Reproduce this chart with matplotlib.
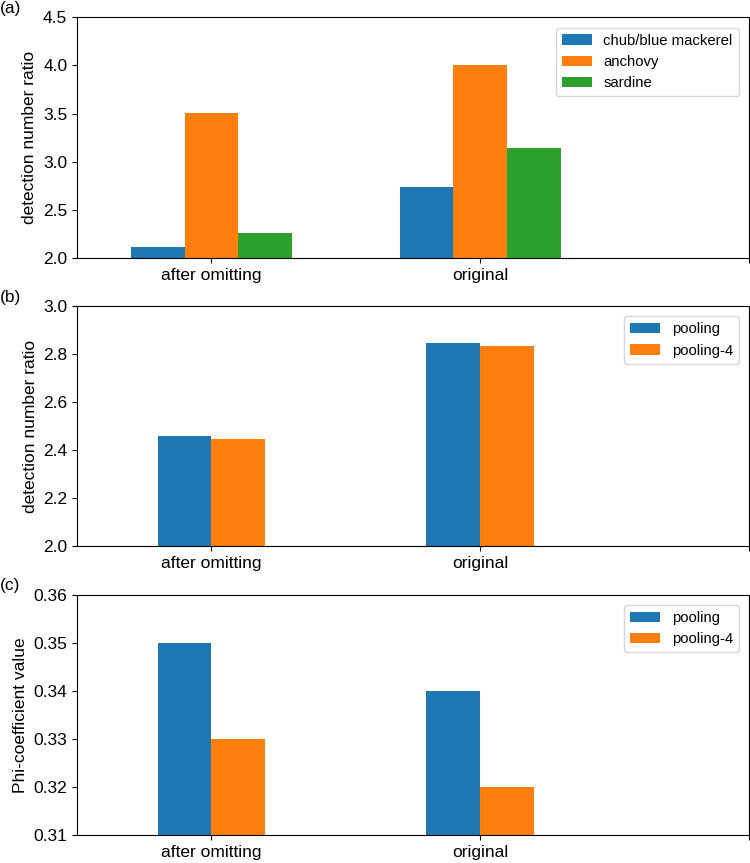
import numpy as np
import matplotlib
matplotlib.use("Agg")
import matplotlib.pyplot as plt

plt.rcParams['font.family'] = ['Liberation Sans', 'DejaVu Sans']
plt.rcParams['font.size'] = 12.5

categories = ['after omitting', 'original']

# (a) detection number ratio per species
species = ['chub/blue mackerel', 'anchovy', 'sardine']
ratio_mackerel = [2.11, 2.74]
ratio_anchovy = [3.51, 4.00]
ratio_sardine = [2.26, 3.14]

# (b) detection number ratio per pooling
pool_names = ['pooling', 'pooling-4']
ratio_pooling = [2.457, 2.845]
ratio_pooling4 = [2.445, 2.832]

# (c) phi coefficient per pooling
phi_pooling = [0.35, 0.34]
phi_pooling4 = [0.33, 0.32]

colors = ['#1f77b4', '#ff7f0e', '#2ca02c']
width = 0.2

fig = plt.figure(figsize=(7.5, 8.63), dpi=100)
left, w = 0.1027, 0.896
ax_a = fig.add_axes([left, 0.701, w, 0.279])
ax_b = fig.add_axes([left, 0.3673, w, 0.2781])
ax_c = fig.add_axes([left, 0.0324, w, 0.2786])

x = np.arange(len(categories))


def draw_bars(ax, series, names):
    n = len(series)
    offsets = (np.arange(n) - (n - 1) / 2) * width
    for vals, name, off, col in zip(series, names, offsets, colors):
        ax.bar(x + off, vals, width, color=col, label=name)
    ax.set_xticks([0, 1, 2])
    ax.set_xticklabels(categories + [''])
    ax.set_xlim(-0.5, 2.0)
    ax.legend(loc='upper right', fontsize=10.7, borderaxespad=0.7)


draw_bars(ax_a, [ratio_mackerel, ratio_anchovy, ratio_sardine], species)
ax_a.set_ylim(2.0, 4.5)
ax_a.set_yticks(np.arange(2.0, 4.51, 0.5))
ax_a.set_ylabel('detection number ratio')

draw_bars(ax_b, [ratio_pooling, ratio_pooling4], pool_names)
ax_b.set_ylim(2.0, 3.0)
ax_b.set_yticks(np.arange(2.0, 3.01, 0.2))
ax_b.set_ylabel('detection number ratio')

draw_bars(ax_c, [phi_pooling, phi_pooling4], pool_names)
ax_c.set_ylim(0.31, 0.36)
ax_c.set_yticks(np.arange(0.31, 0.3601, 0.01))
ax_c.set_ylabel('Phi-coefficient value')

for ax, tag in zip([ax_a, ax_b, ax_c], ['(a)', '(b)', '(c)']):
    ax.text(-0.1146, 1.005, tag, transform=ax.transAxes, ha='left', va='bottom')

fig.savefig('out.png', dpi=100)
